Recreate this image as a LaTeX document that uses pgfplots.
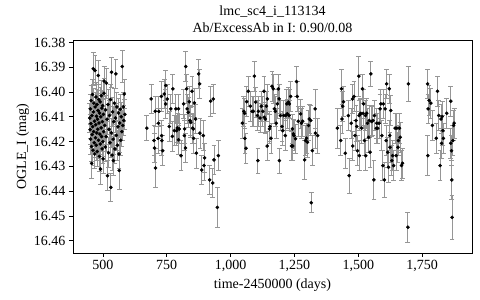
\documentclass[border=0pt]{standalone}
\usepackage{pgfplots}
\usepackage{pgfplotstable}
\pgfplotsset{compat=1.18}
\usepackage{fontspec}
\setmainfont{Liberation Serif}

\pgfplotstableread{
x y e
449 16.4105 0.006
450 16.4152 0.006
451 16.4068 0.006
452 16.4190 0.006
453 16.4128 0.006
454 16.4035 0.006
455 16.4220 0.006
456 16.4288 0.006
457 16.4095 0.006
458 16.4172 0.006
459 16.4010 0.006
460 16.4140 0.006
461 16.4235 0.006
462 16.3906 0.0065
463 16.4080 0.006
464 16.4160 0.006
465 16.4045 0.006
466 16.4205 0.006
467 16.4118 0.006
468 16.4250 0.006
469 16.3913 0.006
470 16.4060 0.006
471 16.4185 0.006
472 16.4132 0.006
473 16.4020 0.006
474 16.4215 0.006
475 16.4098 0.006
476 16.4165 0.006
477 16.4050 0.006
478 16.4240 0.006
479 16.4110 0.006
480 16.4150 0.006
481 16.4075 0.006
482 16.3933 0.006
483 16.4195 0.006
484 16.4030 0.006
485 16.4125 0.006
486 16.4260 0.006
487 16.4085 0.006
488 16.4170 0.006
489 16.4040 0.006
490 16.4210 0.006
491 16.4311 0.006
492 16.4100 0.006
493 16.4145 0.006
494 16.4015 0.006
495 16.4180 0.006
496 16.4065 0.006
497 16.4230 0.006
498 16.4120 0.006
499 16.4055 0.006
500 16.4200 0.006
501 16.4270 0.006
502 16.4090 0.006
503 16.4160 0.006
504 16.4005 0.006
505 16.3956 0.006
507 16.4135 0.006
509 16.4222 0.006
511 16.4072 0.006
513 16.4180 0.006
514 16.3964 0.006
516 16.4110 0.006
518 16.4338 0.006
520 16.4050 0.006
522 16.4245 0.006
524 16.4150 0.006
526 16.4095 0.006
528 16.4205 0.006
530 16.4030 0.006
531 16.4385 0.0058
533 16.4165 0.006
534 16.3920 0.006
536 16.4255 0.006
538 16.4080 0.006
540 16.4190 0.006
541 16.4277 0.006
543 16.4120 0.006
545 16.4045 0.006
547 16.4230 0.006
549 16.4105 0.006
551 16.3927 0.006
553 16.4175 0.006
555 16.4060 0.006
557 16.4215 0.006
559 16.4140 0.006
561 16.4085 0.006
563 16.4250 0.006
564 16.4317 0.0075
566 16.4125 0.006
568 16.4070 0.006
570 16.4195 0.006
572 16.4100 0.006
574 16.4160 0.006
576 16.3897 0.0065
578 16.4135 0.006
580 16.4060 0.006
582 16.4115 0.006
584 16.4008 0.006
586 16.4090 0.006
}\seasonA

\pgfplotstableread{
x y e
672 16.4146 0.005
689 16.4028 0.006
700 16.4196 0.006
702 16.4226 0.006
705 16.4078 0.006
706 16.4307 0.008
716 16.4187 0.006
718 16.4126 0.006
719 16.4078 0.006
729 16.4018 0.006
730 16.4176 0.006
731 16.4196 0.006
734 16.4237 0.006
740 16.4008 0.006
746 16.3974 0.006
746 16.4048 0.006
752 16.4028 0.006
760 16.4139 0.006
766 16.4068 0.006
772 16.4179 0.006
774 16.3987 0.006
780 16.4156 0.006
786 16.4068 0.006
789 16.4156 0.006
791 16.4145 0.006
796 16.4068 0.006
796 16.4193 0.006
799 16.4149 0.006
806 16.4257 0.006
816 16.4048 0.006
819 16.4176 0.006
820 16.4149 0.006
823 16.4226 0.006
824 16.3897 0.006
828 16.3987 0.006
830 16.4068 0.006
834 16.4082 0.006
838 16.4039 0.006
841 16.4115 0.006
844 16.4122 0.006
849 16.3997 0.006
851 16.4146 0.006
854 16.4149 0.006
855 16.4187 0.006
858 16.4044 0.006
863 16.4109 0.006
866 16.4247 0.006
875 16.3927 0.006
879 16.3967 0.006
880 16.4166 0.006
887 16.4315 0.006
893 16.4176 0.006
896 16.4297 0.006
898 16.4266 0.006
918 16.4355 0.006
922 16.4037 0.006
930 16.4367 0.006
932 16.4028 0.006
935 16.4274 0.006
948 16.4466 0.008
952 16.4257 0.006
}\seasonB

\pgfplotstableread{
x y e
1046 16.4126 0.006
1052 16.4078 0.006
1055 16.4086 0.006
1056 16.4187 0.006
1060 16.4227 0.006
1063 16.4039 0.006
1069 16.3997 0.006
1077 16.4057 0.006
1084 16.4078 0.006
1089 16.4078 0.006
1093 16.3936 0.006
1098 16.4041 0.006
1105 16.4095 0.006
1107 16.4277 0.005
1109 16.4078 0.006
1115 16.4105 0.006
1120 16.4057 0.006
1126 16.4078 0.006
1131 16.3997 0.006
1132 16.4102 0.006
1136 16.4109 0.006
1140 16.4057 0.006
1143 16.4218 0.006
1144 16.4028 0.006
1152 16.4149 0.006
1154 16.4139 0.006
1158 16.4187 0.006
1162 16.3977 0.006
1167 16.3987 0.006
1171 16.4068 0.006
1175 16.4078 0.006
1179 16.4126 0.006
1183 16.4048 0.006
1187 16.3987 0.006
1190 16.4028 0.006
1191 16.4277 0.005
1195 16.4095 0.006
1201 16.4139 0.006
1204 16.4156 0.006
1208 16.4095 0.006
1214 16.4176 0.006
1216 16.4095 0.006
1220 16.4048 0.006
1222 16.4088 0.006
1226 16.4041 0.006
1229 16.4095 0.006
1230 16.4048 0.006
1235 16.4018 0.006
1238 16.4218 0.006
1242 16.4149 0.006
1243 16.4218 0.006
1246 16.4169 0.006
1248 16.4176 0.006
1254 16.4189 0.006
1258 16.3958 0.006
1261 16.4018 0.006
1265 16.4118 0.006
1274 16.4088 0.006
1277 16.4126 0.006
1282 16.4118 0.006
1290 16.4274 0.008
1293 16.4196 0.006
1297 16.4187 0.006
1301 16.4203 0.006
1305 16.4135 0.006
1308 16.4109 0.006
1314 16.4115 0.006
1316 16.4447 0.004
1320 16.4237 0.006
1331 16.4068 0.008
1332 16.4166 0.006
1341 16.4176 0.007
}\seasonC

\pgfplotstableread{
x y e
1418 16.4146 0.008
1431 16.4196 0.006
1434 16.3987 0.008
1436 16.4109 0.006
1439 16.4057 0.006
1442 16.4039 0.006
1449 16.4247 0.006
1461 16.4095 0.006
1464 16.4338 0.007
1472 16.4126 0.006
1477 16.4028 0.006
1478 16.4218 0.006
1483 16.4018 0.006
1487 16.4176 0.006
1491 16.4115 0.006
1494 16.4139 0.006
1497 16.4237 0.006
1502 16.3936 0.008
1503 16.4095 0.006
1504 16.4257 0.006
1507 16.4088 0.006
1510 16.4086 0.006
1513 16.4146 0.006
1516 16.3987 0.006
1519 16.4086 0.006
1521 16.4048 0.006
1524 16.4196 0.006
1528 16.4095 0.006
1529 16.4257 0.006
1533 16.4086 0.006
1536 16.4126 0.006
1540 16.4183 0.006
1543 16.4115 0.006
1546 16.4243 0.006
1549 16.3927 0.005
1553 16.4119 0.006
1557 16.4115 0.006
1561 16.4355 0.008
1563 16.4095 0.006
1570 16.4146 0.006
1572 16.4126 0.006
1576 16.4146 0.006
1581 16.4126 0.006
1585 16.4068 0.006
1588 16.4048 0.006
1592 16.4176 0.006
1596 16.4297 0.006
1598 16.4048 0.006
1602 16.4355 0.007
1605 16.4068 0.006
1609 16.4196 0.006
1611 16.3967 0.006
1615 16.4243 0.006
1618 16.4304 0.006
1621 16.3987 0.006
1623 16.4176 0.006
1624 16.4223 0.006
1627 16.4075 0.006
1631 16.4277 0.006
1634 16.4257 0.006
1638 16.4297 0.006
1644 16.4146 0.006
1648 16.4257 0.006
1651 16.4146 0.006
1655 16.4223 0.006
1657 16.4196 0.006
1661 16.4146 0.006
1664 16.4183 0.006
1669 16.4297 0.006
1673 16.4288 0.006
1694 16.4546 0.006
1696 16.3967 0.007
}\seasonD

\pgfplotstableread{
x y e
1771 16.3967 0.006
1772 16.4257 0.008
1773 16.4068 0.006
1777 16.4034 0.006
1784 16.4045 0.006
1790 16.4135 0.006
1805 16.4187 0.006
1810 16.3997 0.006
1815 16.4095 0.006
1820 16.4297 0.006
1824 16.4109 0.006
1826 16.4207 0.006
1828 16.4099 0.006
1831 16.4156 0.006
1833 16.4187 0.006
1846 16.4086 0.006
1862 16.4037 0.006
1862 16.4207 0.006
1865 16.4237 0.006
1866 16.4355 0.008
1867 16.4506 0.009
1870 16.4196 0.006
1873 16.4135 0.006
1875 16.4126 0.006
}\seasonE

\definecolor{errgray}{RGB}{150,150,150}

\pgfplotsset{
  lcpts/.style={
    only marks, mark=*, mark size=1.6pt, mark options={black, fill=black},
    error bars/y dir=both, error bars/y explicit,
    error bars/error bar style={errgray, line width=0.9pt},
    error bars/error mark options={errgray, mark size=2.4pt, line width=0.8pt, rotate=90}
  }
}

\begin{document}
\begin{tikzpicture}
\path[use as bounding box] (-73pt,-47pt) rectangle (407pt,253pt);
\begin{axis}[
  at={(0pt,0pt)}, anchor=south west,
  scale only axis,
  width=399pt, height=213pt,
  xmin=383, xmax=1945,
  ymin=16.379, ymax=16.465,
  y dir=reverse,
  xtick={500,750,1000,1250,1500,1750},
  ytick={16.38,16.39,16.40,16.41,16.42,16.43,16.44,16.45,16.46},
  tick pos=left,
  tick align=outside,
  major tick length=4pt,
  tick style={black, line width=0.6pt},
  axis line style={black, line width=0.8pt},
  /pgf/number format/assume math mode=true,
  xticklabel style={/pgf/number format/.cd, 1000 sep={,}},
  yticklabel style={/pgf/number format/.cd, fixed, fixed zerofill, precision=2},
  ticklabel style={font=\fontsize{14}{16}\selectfont},
  label style={font=\fontsize{14}{16}\selectfont},
  xlabel={time-2450000 (days)},
  ylabel={OGLE\_I (mag)},
  ylabel style={yshift=-2pt},
  title={lmc\_sc4\_i\_113134\\Ab/ExcessAb in I: 0.90/0.08},
  title style={font=\fontsize{14}{16.5}\selectfont, align=center, yshift=-2pt},
]
\addplot[lcpts] table[x=x, y=y, y error=e] {\seasonA};
\addplot[lcpts] table[x=x, y=y, y error=e] {\seasonB};
\addplot[lcpts] table[x=x, y=y, y error=e] {\seasonC};
\addplot[lcpts] table[x=x, y=y, y error=e] {\seasonD};
\addplot[lcpts] table[x=x, y=y, y error=e] {\seasonE};
\end{axis}
\end{tikzpicture}
\end{document}
